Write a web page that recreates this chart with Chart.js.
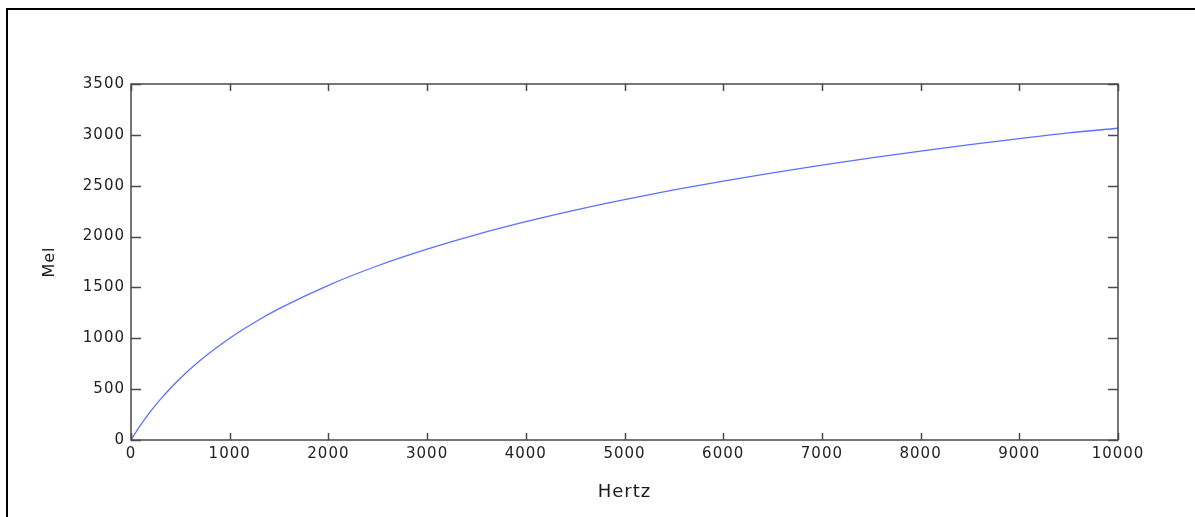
<!DOCTYPE html>
<html>
<head>
<meta charset="utf-8">
<title>Mel vs Hertz</title>
<script src="https://cdn.jsdelivr.net/npm/chart.js@4/dist/chart.umd.min.js"></script>
<style>
  html, body { margin: 0; padding: 0; background: #fff; }
  #wrap { position: relative; width: 1195px; height: 517px; overflow: hidden; }
  #frame {
    position: absolute; left: 6px; top: 8px; right: -10px; bottom: -10px;
    border-left: 2px solid #000; border-top: 2px solid #000;
    pointer-events: none;
  }
  canvas { display: block; }
</style>
</head>
<body>
<div id="wrap">
  <canvas id="chart" width="1195" height="517"></canvas>
  <div id="frame"></div>
</div>
<script>
// Frequency samples (Hz) and the perceived pitch in mel at each of them
const hertz = [0, 50, 100, 200, 300, 400, 500, 700, 1000, 1250, 1500, 2000, 2500, 3000,
               3500, 4000, 4500, 5000, 5500, 6000, 6500, 7000, 7500, 8000, 8500, 9000,
               9500, 10000];
const mel = [0, 78, 150, 283, 402, 509, 607, 781, 1000, 1155, 1291, 1521, 1713, 1876,
             2019, 2146, 2260, 2363, 2458, 2546, 2627, 2702, 2773, 2840, 2903, 2963,
             3019, 3065];

// Axis ranges and tick steps
const xRange = [0, 10000];
const xStep = 1000;
const yRange = [0, 3500];
const yStep = 500;

const axisColor = '#4a4a4a';
const labelColor = '#222';
const fontFamily = '"DejaVu Sans", Verdana, sans-serif';

// Boxed axes with inward tick marks on all four sides
const boxAxes = {
  id: 'boxAxes',
  afterDatasetsDraw(chart) {
    const { ctx, chartArea: a, scales: { x, y } } = chart;
    ctx.save();
    ctx.strokeStyle = axisColor;
    ctx.lineWidth = 1.5;
    ctx.strokeRect(a.left, a.top, a.right - a.left, a.bottom - a.top);
    ctx.beginPath();
    x.ticks.forEach(t => {
      const px = Math.round(x.getPixelForValue(t.value)) + 0.5;
      ctx.moveTo(px, a.bottom); ctx.lineTo(px, a.bottom - 7);
      ctx.moveTo(px, a.top); ctx.lineTo(px, a.top + 7);
    });
    y.ticks.forEach(t => {
      const py = Math.round(y.getPixelForValue(t.value)) + 0.5;
      ctx.moveTo(a.left, py); ctx.lineTo(a.left + 10, py);
      ctx.moveTo(a.right, py); ctx.lineTo(a.right - 10, py);
    });
    ctx.stroke();
    ctx.restore();
  }
};

// Slightly wider glyph spacing for all labels
const wideText = {
  id: 'wideText',
  beforeDraw(chart) { chart.ctx.letterSpacing = '1px'; },
  afterDraw(chart) { chart.ctx.letterSpacing = '0px'; }
};

new Chart(document.getElementById('chart'), {
  type: 'line',
  data: {
    datasets: [{
      data: hertz.map((h, i) => ({ x: h, y: mel[i] })),
      borderColor: 'rgb(92, 112, 255)',
      borderWidth: 1.3,
      pointRadius: 0,
      cubicInterpolationMode: 'monotone',
      fill: false
    }]
  },
  options: {
    responsive: false,
    animation: false,
    devicePixelRatio: 1,
    layout: { padding: { left: 0, right: 77, top: 84, bottom: 0 } },
    plugins: { legend: { display: false }, tooltip: { enabled: false } },
    scales: {
      x: {
        type: 'linear',
        min: xRange[0], max: xRange[1],
        grid: { display: false, drawTicks: false },
        border: { display: false },
        ticks: {
          stepSize: xStep, autoSkip: false, maxRotation: 0, padding: 5,
          color: labelColor,
          font: { family: fontFamily, size: 15 },
          callback: v => String(v)
        },
        title: {
          display: true, text: 'Hertz', color: '#1a1a1a',
          font: { family: fontFamily, size: 18 },
          padding: { top: 0, bottom: 14 }
        },
        afterFit(s) { s.height = 77; }
      },
      y: {
        type: 'linear',
        min: yRange[0], max: yRange[1],
        grid: { display: false, drawTicks: false },
        border: { display: false },
        ticks: {
          stepSize: yStep, autoSkip: false, padding: 6,
          color: labelColor,
          font: { family: fontFamily, size: 15 },
          callback: v => String(v)
        },
        title: {
          display: true, text: 'Mel', color: '#1a1a1a',
          font: { family: fontFamily, size: 16 },
          padding: { top: 40, bottom: 0 }
        },
        afterFit(s) { s.width = 131; }
      }
    }
  },
  plugins: [boxAxes, wideText]
});
</script>
</body>
</html>
